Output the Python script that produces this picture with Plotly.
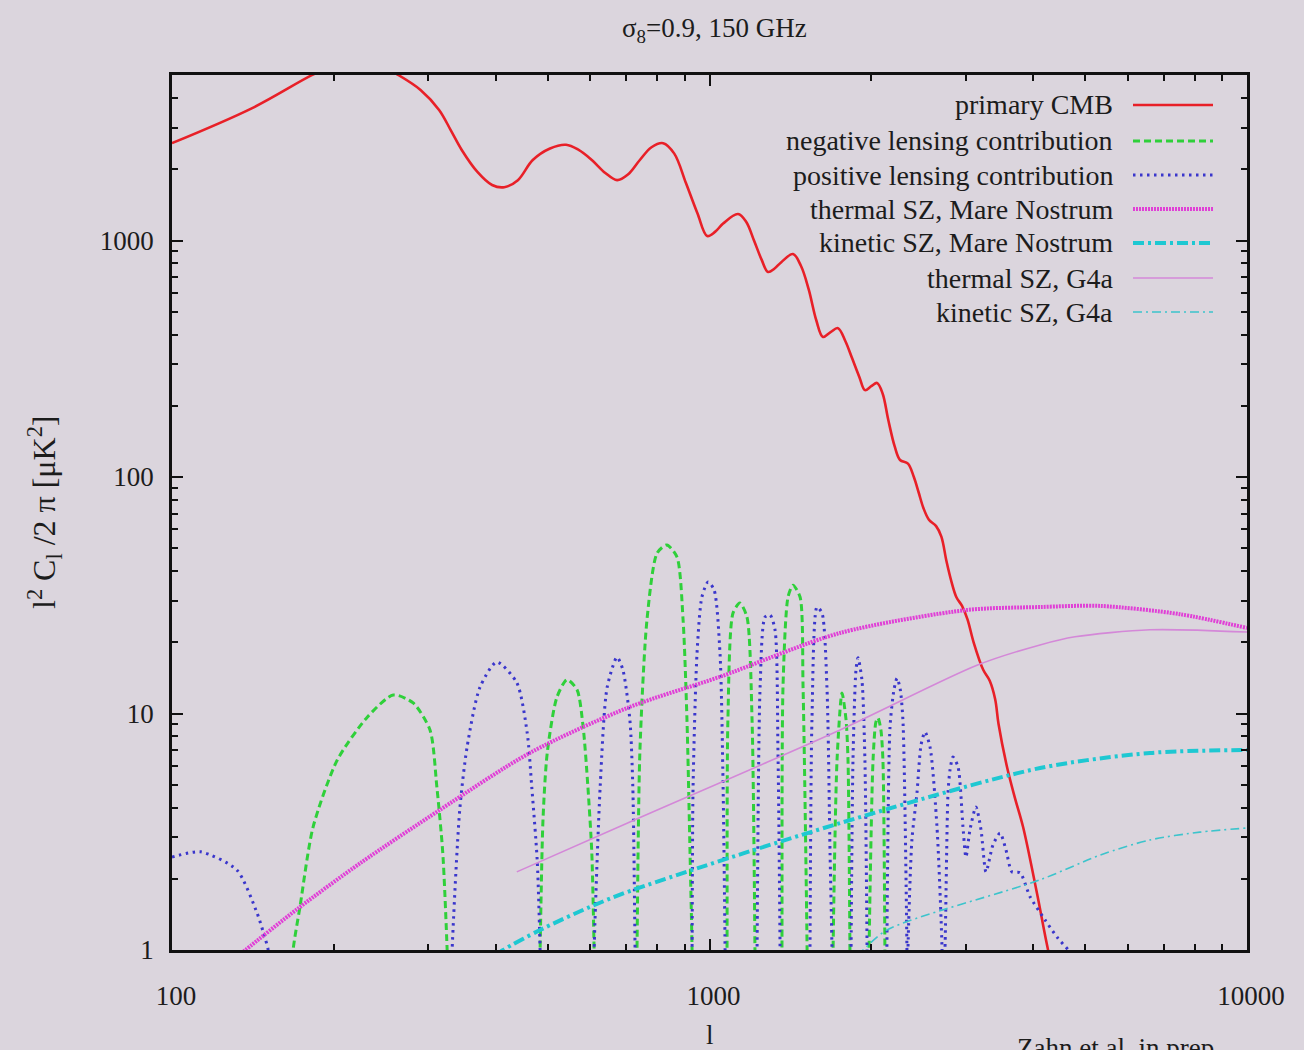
import plotly.graph_objects as go
import math

# ---------------- data ----------------
cmb_ell = [100, 141, 182, 200, 220, 240, 264, 290, 314, 330, 346, 370, 394, 415, 440, 469, 505,
           541, 570, 604, 640, 673, 705, 742, 780, 820, 860, 904, 950, 990, 1025, 1060, 1130,
           1170, 1210, 1250, 1285, 1320, 1360, 1430, 1480, 1530, 1580, 1626, 1680, 1734, 1790,
           1840, 1900, 1946, 2000, 2050, 2100, 2150, 2210, 2262, 2340, 2400, 2450, 2500, 2560,
           2640, 2700, 2760, 2820, 2880, 2950, 3020, 3100, 3230, 3320, 3400, 3450, 3577, 3700,
           3832, 4066, 4265, 4400]
cmb_val = [2580, 3630, 5000, 5500, 5750, 5600, 5000, 4330, 3565, 2930, 2415, 1950, 1717, 1680,
           1800, 2190, 2450, 2540, 2420, 2190, 1930, 1800, 1900, 2190, 2480, 2580, 2330, 1750,
           1300, 1045, 1090, 1180, 1294, 1200, 1000, 830, 736, 760, 810, 877, 780, 620, 460, 391,
           410, 426, 375, 320, 265, 233, 242, 250, 225, 175, 135, 118, 114, 100, 86, 74, 66, 62,
           56, 44, 36, 31, 28.5, 25, 20, 15.3, 13.8, 11.5, 9, 5.94, 4.4, 3.31, 1.74, 1.0, 0.75]

neg_lens_ell = [166, 168, 173, 183, 203, 231, 258, 281, 302, 311, 319, 325, 327, None,
                482, 484, 490, 499, 520, 543, 567, 582, 594, 604, 610, 612, None,
                731, 733, 742, 765, 799, 833, 870, 893, 908, 920, 928, 930, None,
                1076, 1078, 1082, 1106, 1139, 1174, 1200, 1215, 1217, None,
                1362, 1364, 1370, 1400, 1430, 1474, 1493, 1519, 1521, None,
                1696, 1698, 1727, 1764, 1795, 1810, 1825, 1827, None,
                1979, 1981, 2015, 2040, 2058, 2084, 2102, 2120, 2122]
neg_lens_val = [0.6, 1, 1.52, 3.31, 6.36, 9.67, 11.98, 11.08, 8.52, 4.89, 2.57, 1, 0.6, None,
                0.6, 1, 3.55, 6.81, 11.7, 13.9, 12.6, 8.77, 4.89, 2.57, 1, 0.6, None,
                0.6, 1, 6.81, 24.9, 47.7, 51.6, 45.9, 24.9, 9.39, 2.57, 1, 0.6, None,
                0.6, 1, 9.39, 26.6, 29.3, 25.6, 9.39, 1, 0.6, None,
                0.6, 1, 12.9, 31.1, 34.9, 31.1, 12.9, 1, 0.6, None,
                0.6, 1, 6.36, 12.2, 9.39, 6.36, 1, 0.6, None,
                0.6, 1, 6.36, 9.21, 9.57, 8.52, 6.36, 1, 0.6]

pos_lens_ell = [100, 113, 132, 144, 148, 151, 154, None,
                330, 332, 343, 354, 374, 402, 438, 458, 467, 478, 484, 486, None,
                608, 610, 626, 645, 673, 690, 711, 720, 727, 729, None,
                926, 928, 932, 948, 968, 994, 1020, 1046, 1060, 1069, 1071, None,
                1224, 1226, 1242, 1269, 1296, 1324, 1341, 1353, 1355, None,
                1536, 1538, 1551, 1585, 1619, 1654, 1676, 1690, 1692, None,
                1832, 1834, 1849, 1873, 1889, 1921, 1946, 1964, 1966, None,
                2136, 2138, 2167, 2204, 2233, 2262, 2290, 2330, 2334, None,
                2336, 2340, 2380, 2432, 2475, 2517, 2572, 2650, 2708, 2712, None,
                2716, 2742, 2778, 2802, 2838, 2900, 2962, 3000, 3052, 3131, 3200, 3269, 3368,
                3472, 3561, 3654, 3783, 3948, 4210, 4450, 4686, 4996]
pos_lens_val = [2.47, 2.60, 2.18, 1.43, 1.18, 1.0, 0.6, None,
                0.6, 1.0, 3.91, 7.22, 12.9, 16.5, 13.5, 8.27, 4.89, 2.4, 1.0, 0.6, None,
                0.6, 1, 4.89, 12.9, 17.3, 15.3, 9.39, 4.89, 1.0, 0.6, None,
                0.6, 1, 4.89, 18.0, 31.1, 36, 33.3, 18.0, 4.89, 1, 0.6, None,
                0.6, 1, 12.9, 25.6, 26.1, 22.6, 6.81, 1, 0.6, None,
                0.6, 1, 9.39, 28.2, 26.6, 12.9, 2.57, 1, 0.6, None,
                0.6, 1, 6.36, 15.3, 17.2, 13.9, 6.36, 1, 0.6, None,
                0.6, 1, 8.77, 12.6, 14.1, 12.8, 9.39, 1, 0.6, None,
                0.6, 1, 2.92, 4.61, 7.37, 8.35, 7.22, 3.31, 1, 0.6, None,
                0.6, 1, 4.61, 5.77, 6.55, 5.94, 3.31, 2.47, 3.22, 4.02, 3.22, 2.14, 2.78,
                3.12, 2.65, 2.14, 2.12, 1.68, 1.34, 1.12, 0.98, 0.78]

tsz_mn_ell = [128, 137, 172, 224, 315, 463, 711, 1046, 1749, 3014, 4120, 5330, 7500, 10000]
tsz_mn_val = [0.88, 1.0, 1.505, 2.33, 3.91, 6.81, 10.66, 14.3, 21.9, 27.4, 28.2, 28.5, 26.3, 23.0]

ksz_mn_ell = [400, 413, 484, 599, 711, 1749, 4120, 6600, 10000]
ksz_mn_val = [0.95, 1.0, 1.215, 1.52, 1.776, 3.44, 5.88, 6.81, 7.01]

tsz_g4a_ell = [438, 711, 1749, 3145, 4120, 4786, 6600, 10000]
tsz_g4a_val = [2.14, 3.48, 8.52, 16.0, 19.5, 21.1, 22.6, 22.1]

ksz_g4a_ell = [1880, 1930, 2138, 4120, 5330, 6600, 8170, 10000]
ksz_g4a_val = [0.95, 1.0, 1.215, 1.98, 2.52, 2.92, 3.15, 3.28]

legend_labels = ["primary CMB", "negative lensing contribution", "positive lensing contribution",
                 "thermal SZ, Mare Nostrum", "kinetic SZ, Mare Nostrum",
                 "thermal SZ, G4a", "kinetic SZ, G4a"]

x_ticks = [100, 1000, 10000]
y_ticks = [1, 10, 100, 1000]

# ---------------- styling ----------------
W, H = 1304, 1050
ML, MR, MT, MB = 172, 57, 75, 100
PW, PH = W - ML - MR, H - MT - MB
BG = "#dbd5dd"
FONT = "Liberation Serif"
TXT = "#1c1c1c"

styles = [
    dict(color="#e82028", width=2.6, dash="solid", smooth=1.0),
    dict(color="#2fd03a", width=3, dash="7px,4px", smooth=0.7),
    dict(color="#3a36cc", width=3, dash="2.5px,4.5px", smooth=0.7),
    dict(color="#e040d6", width=4, dash="2px,1px", smooth=0.8),
    dict(color="#1ec8d2", width=4, dash="11px,4px,3px,4px", smooth=0.8),
    dict(color="#d488d8", width=1.6, dash="solid", smooth=0.8),
    dict(color="#3cc4cc", width=1.6, dash="9px,4px,2px,4px", smooth=0.8),
]
series = [(cmb_ell, cmb_val), (neg_lens_ell, neg_lens_val), (pos_lens_ell, pos_lens_val),
          (tsz_mn_ell, tsz_mn_val), (ksz_mn_ell, ksz_mn_val),
          (tsz_g4a_ell, tsz_g4a_val), (ksz_g4a_ell, ksz_g4a_val)]

fig = go.Figure()
for (xs, ys), st, name in zip(series, styles, legend_labels):
    fig.add_trace(go.Scatter(x=xs, y=ys, mode="lines", name=name, connectgaps=False,
                             line=dict(color=st["color"], width=st["width"], dash=st["dash"],
                                       shape="spline", smoothing=st["smooth"]),
                             showlegend=False, hoverinfo="skip"))

# custom gnuplot-like key (text right-aligned, sample to the right)
row_px = [105, 141, 175, 209, 243, 278, 312]
text_right_px = 1115
samp_x0_px, samp_x1_px = 1133, 1213
def px2paper_x(px):
    return (px - ML) / PW
def py2paper_y(py):
    return (MT + PH - py) / PH

annotations = []
shapes = []
for lbl, st, ry in zip(legend_labels, styles, row_px):
    annotations.append(dict(x=px2paper_x(text_right_px), y=py2paper_y(ry), xref="paper", yref="paper",
                            text=lbl, showarrow=False, xanchor="right", yanchor="middle",
                            font=dict(family=FONT, size=28, color=TXT)))
    shapes.append(dict(type="line", xref="paper", yref="paper",
                       x0=px2paper_x(samp_x0_px), x1=px2paper_x(samp_x1_px),
                       y0=py2paper_y(ry), y1=py2paper_y(ry),
                       line=dict(color=st["color"], width=st["width"], dash=st["dash"])))

annotations.append(dict(x=px2paper_x(44), y=py2paper_y(512), xref="paper", yref="paper",
                        text="l<sup>2</sup> C<sub>l</sub> /2 π [μK<sup>2</sup>]", textangle=-90,
                        showarrow=False, xanchor="center", yanchor="middle",
                        font=dict(family=FONT, size=32, color=TXT)))
annotations.append(dict(x=px2paper_x(710), y=py2paper_y(1035), xref="paper", yref="paper",
                        text="l", showarrow=False, xanchor="center", yanchor="middle",
                        font=dict(family=FONT, size=27, color=TXT)))
annotations.append(dict(x=px2paper_x(1015), y=py2paper_y(1031), xref="paper", yref="paper",
                        text="Zahn et al. in prep.", showarrow=False, xanchor="left", yanchor="top",
                        font=dict(family=FONT, size=27, color=TXT)))
annotations.append(dict(x=px2paper_x(714), y=py2paper_y(30), xref="paper", yref="paper",
                        text="σ<sub>8</sub>=0.9, 150 GHz", showarrow=False, xanchor="center",
                        yanchor="middle", font=dict(family=FONT, size=27, color=TXT)))

x_minor = [m * d for d in (100, 1000) for m in range(2, 10)]
y_minor = [m * d for d in (1, 10, 100, 1000) for m in range(2, 10) if m * d < 5010]

axis_common = dict(showline=True, linecolor="#111111", linewidth=2.5, mirror="allticks",
                   ticks="inside", ticklen=11, tickwidth=1.5, tickcolor="#111111",
                   showgrid=False, zeroline=False,
                   tickfont=dict(family=FONT, size=27, color=TXT))

fig.update_layout(
    width=W, height=H,
    margin=dict(l=ML, r=MR, t=MT, b=MB),
    paper_bgcolor=BG, plot_bgcolor=BG,
    xaxis=dict(type="log", range=[2, 4], tickmode="array", tickvals=x_ticks,
               ticktext=[str(v) for v in x_ticks], ticklabelstandoff=20, ticklabelshift=4,
               minor=dict(ticks="inside", ticklen=6, tickcolor="#111111", tickvals=x_minor,
                          showgrid=False), **axis_common),
    yaxis=dict(type="log", range=[0, math.log10(5010)], tickmode="array", tickvals=y_ticks,
               ticktext=[str(v) for v in y_ticks], ticklabelstandoff=10,
               minor=dict(ticks="inside", ticklen=6, tickcolor="#111111", tickvals=y_minor,
                          showgrid=False), **axis_common),
    annotations=annotations,
    shapes=shapes,
    showlegend=False,
)

fig.write_html("out.html")
